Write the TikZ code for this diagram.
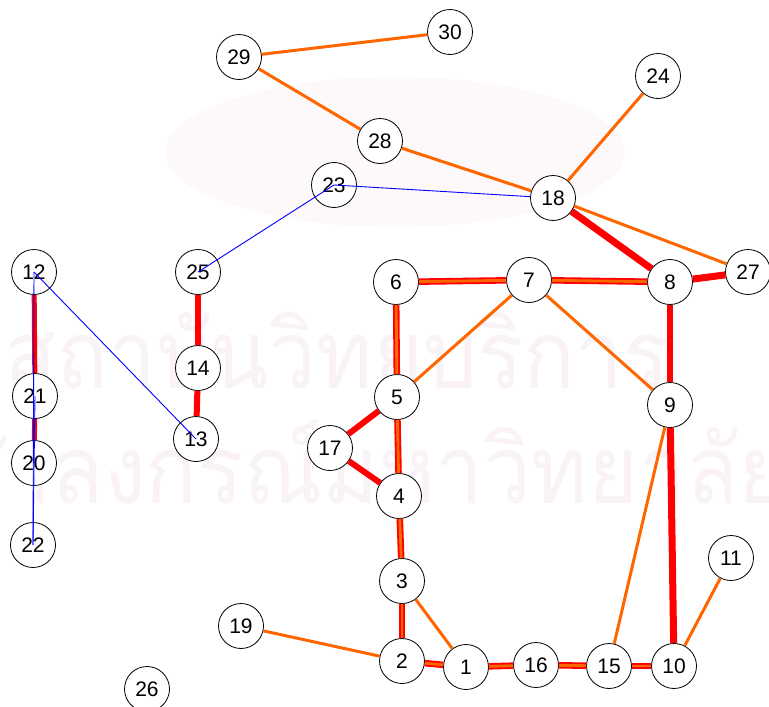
\documentclass[tikz,border=0pt]{standalone}
\usepackage{fontspec}
\setmainfont{Liberation Sans}
\newfontfamily\thaifont[Script=Thai]{Loma}
\definecolor{heavy}{HTML}{FF0000}
\definecolor{light}{HTML}{FF6600}
\definecolor{weak}{HTML}{0000FF}
\definecolor{stamp}{HTML}{F9F2F6}
\definecolor{seal}{HTML}{FDF9FA}
\begin{document}
\begin{tikzpicture}[x=1pt,y=-1pt,
    vertex/.style={circle,draw=black,line width=0.8pt,fill=white,
      minimum size=45pt,inner sep=0pt,font=\fontsize{21}{21}\selectfont},
    redline/.style={heavy,line width=6pt},
    orangeline/.style={light,line width=3pt},
    blueline/.style={weak,line width=0.9pt},
    twin/.style={heavy,line width=6.5pt,
      postaction={draw,light,line width=2.8pt}},
    stamptext/.style={stamp,anchor=base west,inner sep=0pt,xscale=0.9,
      font=\thaifont\fontsize{95}{95}\selectfont}]
  \useasboundingbox (0,0) rectangle (769,707);
  % faint seal and lettering behind the graph
  \begin{scope}
    \clip (0,0) rectangle (769,707);
    \fill[seal] (395,152) ellipse (230 and 75);
    \node[stamptext] (stampa) at (4,388) {สถาบันวิทยบริการ};
    \node[stamptext] (stampb) at (-105,503) {จุฬาลงกรณ์มหาวิทยาลัย};
  \end{scope}
  % vertices
  \node[vertex] (n1) at (466,667) {1};
  \node[vertex] (n2) at (402,661) {2};
  \node[vertex] (n3) at (402,581) {3};
  \node[vertex] (n4) at (399,496) {4};
  \node[vertex] (n5) at (397,397) {5};
  \node[vertex] (n6) at (396,282) {6};
  \node[vertex] (n7) at (529,280) {7};
  \node[vertex] (n8) at (670,282) {8};
  \node[vertex] (n9) at (670,405) {9};
  \node[vertex] (n10) at (674,666) {10};
  \node[vertex] (n11) at (731,558) {11};
  \node[vertex] (n12) at (34,272) {12};
  \node[vertex] (n13) at (196,439) {13};
  \node[vertex] (n14) at (198,368) {14};
  \node[vertex] (n15) at (609,666) {15};
  \node[vertex] (n16) at (536,665) {16};
  \node[vertex] (n17) at (330,448) {17};
  \node[vertex] (n18) at (553,198) {18};
  \node[vertex] (n19) at (241,626) {19};
  \node[vertex] (n20) at (34,463) {20};
  \node[vertex] (n21) at (35,396) {21};
  \node[vertex] (n22) at (33,545) {22};
  \node[vertex] (n23) at (334,185) {23};
  \node[vertex] (n24) at (658,76) {24};
  \node[vertex] (n25) at (198,272) {25};
  \node[vertex] (n26) at (147,689) {26};
  \node[vertex] (n27) at (748,272) {27};
  \node[vertex] (n28) at (380,141) {28};
  \node[vertex] (n29) at (239,57) {29};
  \node[vertex] (n30) at (450,32) {30};
  % edges stop at the circles
  \draw[orangeline] (n29) -- (n30);
  \draw[orangeline] (n29) -- (n28);
  \draw[orangeline] (n28) -- (n18);
  \draw[orangeline] (n18) -- (n24);
  \draw[orangeline] (n18) -- (n27);
  \draw[orangeline] (n7) -- (n5);
  \draw[orangeline] (n7) -- (n9);
  \draw[orangeline] (n3) -- (n1);
  \draw[orangeline] (n19) -- (n2);
  \draw[orangeline] (n15) -- (n9);
  \draw[orangeline] (n10) -- (n11);
  \draw[redline,line width=7pt] (n18) -- (n8);
  \draw[redline,line width=7pt] (n8) -- (n27);
  \draw[redline] (n8) -- (n9);
  \draw[redline,line width=7pt] (n9) -- (n10);
  \draw[redline] (n5) -- (n17);
  \draw[redline] (n17) -- (n4);
  \draw[redline] (n25) -- (n14);
  \draw[redline] (n14) -- (n13);
  \draw[redline,line width=5pt] (n12) -- (n21);
  \draw[redline,line width=5pt] (n21) -- (n20);
  \draw[twin] (n6) -- (n7);
  \draw[twin] (n7) -- (n8);
  \draw[twin] (n6) -- (n5);
  \draw[twin] (n5) -- (n4);
  \draw[twin] (n4) -- (n3);
  \draw[twin] (n3) -- (n2);
  \draw[twin] (n2) -- (n1);
  \draw[twin] (n1) -- (n16);
  \draw[twin] (n16) -- (n15);
  \draw[twin] (n15) -- (n10);
  % weak links run over the circles
  \draw[blueline] (n12.center) -- (n13.center);
  \draw[blueline] (n12.center) -- (n22.center);
  \draw[blueline] (n21.center) -- (n22.center);
  \draw[blueline] (n25.center) -- (n23.center);
  \draw[blueline] (n23.center) -- (n18);
\end{tikzpicture}
\end{document}
